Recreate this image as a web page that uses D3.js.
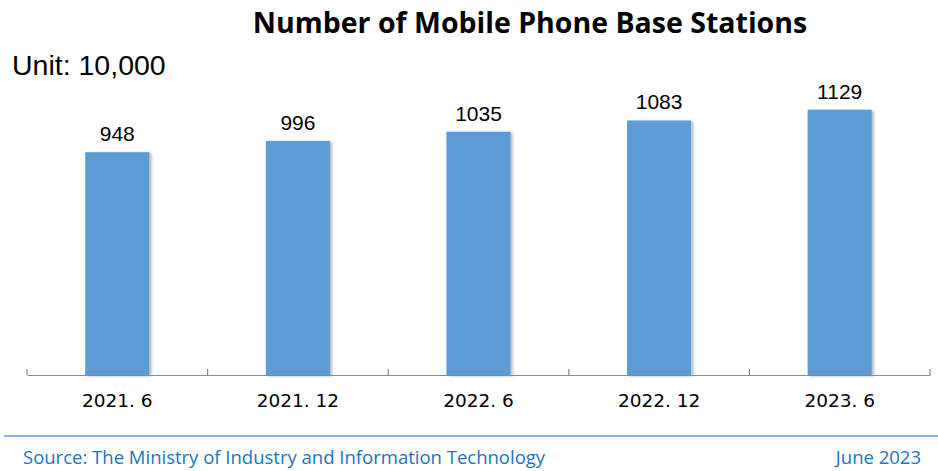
<!DOCTYPE html>
<html><head><meta charset="utf-8">
<script src="https://cdn.jsdelivr.net/npm/d3@7"></script>
<style>body{margin:0;background:#fff}</style>
</head><body>
<svg id="c" width="938" height="471"></svg>
<script>
const categories = ["2021. 6", "2021. 12", "2022. 6", "2022. 12", "2023. 6"];
const values = [948, 996, 1035, 1083, 1129];
const title = "Number of Mobile Phone Base Stations";
const unitLabel = "Unit: 10,000";
const sourceText = "Source: The Ministry of Industry and Information Technology";
const dateText = "June 2023";

const svg = d3.select("#c");
const defs = svg.append("defs");
const f = defs.append("filter").attr("id","sh").attr("x","-20%").attr("y","-10%").attr("width","150%").attr("height","130%");
f.append("feDropShadow").attr("dx",2).attr("dy",1).attr("stdDeviation",1.5).attr("flood-color","#000").attr("flood-opacity",0.3);

const x = d3.scaleBand().domain(categories).range([27, 930]).paddingInner(0.645).paddingOuter(0.3225);
const y = d3.scaleLinear().domain([0, 1200]).range([375, 93]);

svg.append("text").attr("x", 530).attr("y", 33).attr("text-anchor","middle")
  .attr("font-family","'Open Sans', sans-serif").attr("font-weight","bold").attr("font-size",28.5)
  .attr("fill","#000").text(title);

svg.append("text").attr("x", 12).attr("y", 75)
  .attr("font-family","'Liberation Sans', Arial, sans-serif").attr("font-size",28.5)
  .attr("fill","#000").text(unitLabel);

svg.selectAll("rect.bar").data(values).join("rect").attr("class","bar")
  .attr("x",(d,i)=>x(categories[i])).attr("width",x.bandwidth())
  .attr("y",d=>y(d)).attr("height",d=>y(0)-y(d))
  .attr("fill","#5b9bd5").attr("filter","url(#sh)");

svg.selectAll("text.val").data(values).join("text").attr("class","val")
  .attr("x",(d,i)=>x(categories[i])+x.bandwidth()/2).attr("y",d=>y(d)-11)
  .attr("text-anchor","middle").attr("font-family","'Liberation Sans', Arial, sans-serif")
  .attr("font-size",21).attr("fill","#000").text(d=>d);

// axis
const xb = d3.scaleBand().domain(categories).range([27, 930]);
const ax = svg.append("g").attr("transform","translate(0,375)")
  .call(d3.axisBottom(xb).tickSize(0).tickPadding(19).tickSizeOuter(0));
ax.select(".domain").attr("stroke","#898989").attr("stroke-width",1.2);
ax.selectAll("text").attr("font-family","'DejaVu Sans', sans-serif").attr("font-size",18.5).attr("fill","#000");
// tick marks between categories (upwards)
const edges = categories.map(c=>xb(c)).concat([930]);
svg.selectAll("line.tk").data(edges).join("line").attr("class","tk")
  .attr("x1",d=>d).attr("x2",d=>d).attr("y1",369).attr("y2",375)
  .attr("stroke","#898989").attr("stroke-width",1.2);

// footer
svg.append("line").attr("x1",4).attr("x2",938).attr("y1",436).attr("y2",436)
  .attr("stroke","#5b9bd5").attr("stroke-width",1.5);
svg.append("text").attr("x",23).attr("y",464)
  .attr("font-family","'Open Sans', sans-serif").attr("font-size",18.5).attr("fill","#1874c4").text(sourceText);
svg.append("text").attr("x",921).attr("y",464).attr("text-anchor","end")
  .attr("font-family","'Open Sans', sans-serif").attr("font-size",18.5).attr("fill","#1874c4").text(dateText);
</script>
</body></html>
